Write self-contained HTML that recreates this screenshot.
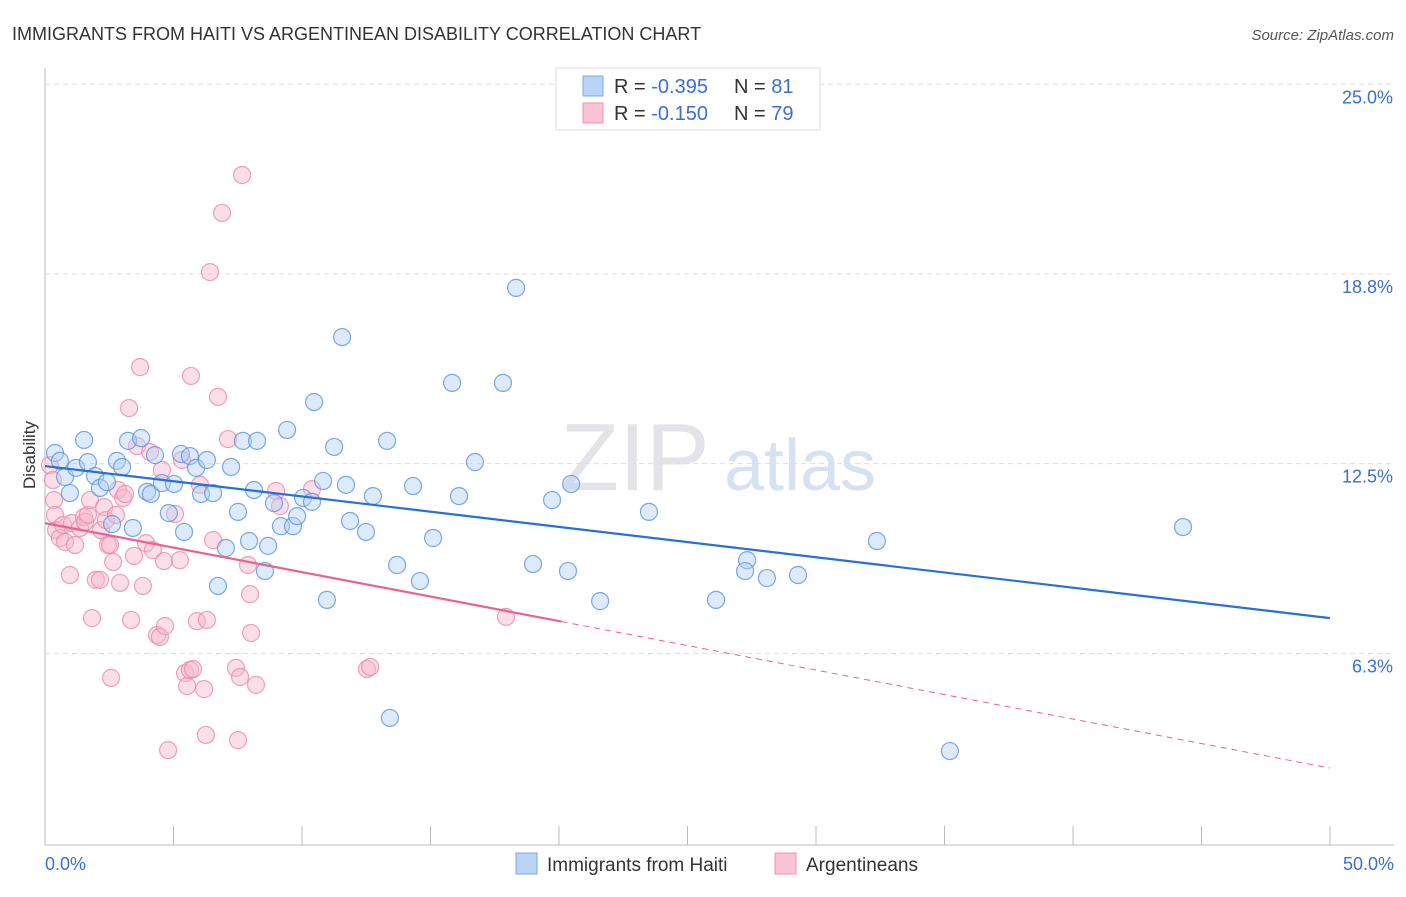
<!DOCTYPE html>
<html><head><meta charset="utf-8"><style>
body{margin:0;background:#fff;font-family:"Liberation Sans",sans-serif}
svg text{font-family:"Liberation Sans",sans-serif}
</style></head><body>
<svg id="c" width="1406" height="892" viewBox="0 0 1406 892">
<text x="12" y="40" font-size="18" fill="#333">IMMIGRANTS FROM HAITI VS ARGENTINEAN DISABILITY CORRELATION CHART</text>
<text x="1394" y="40" font-size="15" fill="#555" font-style="italic" text-anchor="end">Source: ZipAtlas.com</text>
<text x="635" y="490" font-size="96" fill="#e4e4e8" font-family="Liberation Serif" text-anchor="middle">ZIP</text>
<text x="800" y="490" font-size="72" fill="#d6e2f2" text-anchor="middle">atlas</text>
<g id="grid"></g><g id="axes"></g><g id="pts"></g><g id="trend"></g>
<text x="35" y="455" font-size="17" fill="#333" text-anchor="middle" transform="rotate(-90 35 455)">Disability</text>
<g>
<rect x="556" y="68" width="264" height="62" fill="#fff" stroke="#ddd"/>
<rect x="583" y="76" width="20" height="20" fill="#b9d4f5" stroke="#7aa9e6"/>
<text x="614" y="93" font-size="20" fill="#333">R = <tspan fill="#3b6fd4">-0.395</tspan></text>
<text x="734" y="93" font-size="20" fill="#333">N = <tspan fill="#3b6fd4"> 81</tspan></text>
<rect x="583" y="103" width="20" height="20" fill="#f9c5d4" stroke="#ee93ae"/>
<text x="614" y="120" font-size="20" fill="#333">R = <tspan fill="#3b6fd4"> -0.150</tspan></text>
<text x="734" y="120" font-size="20" fill="#333">N = <tspan fill="#3b6fd4">79</tspan></text>
</g>
<g>
<rect x="516" y="853" width="21" height="21" fill="#b9d4f5" stroke="#7aa9e6"/>
<text x="547" y="871" font-size="19" fill="#333">Immigrants from Haiti</text>
<rect x="775" y="853" width="21" height="21" fill="#f9c5d4" stroke="#ee93ae"/>
<text x="806" y="871" font-size="19" fill="#333">Argentineans</text>
</g>
</svg>
<script>
const yTicks=[25,18.75,12.5,6.25];
const yTickLabels=["25.0%","18.8%","12.5%","6.3%"];
const xTickLabels=["0.0%","50.0%"];
const blueX=[0.39,0.58,0.78,0.97,1.21,1.52,1.67,1.95,2.14,2.41,2.61,2.80,3.00,3.23,3.42,3.74,3.97,4.12,4.28,4.55,4.82,5.02,5.29,5.41,5.64,5.88,6.07,6.30,6.54,6.73,7.04,7.24,7.51,7.70,7.94,8.13,8.25,8.56,8.68,8.91,9.18,9.42,9.65,9.81,10.04,10.39,10.47,10.82,10.97,11.25,11.56,11.71,11.87,12.49,12.76,13.31,13.42,13.70,14.32,14.59,15.10,15.84,16.11,16.73,17.82,18.33,18.99,19.73,20.35,20.47,21.60,23.50,26.11,27.32,27.24,28.09,29.30,32.37,35.21,44.28];
const blueY=[12.85,12.59,12.06,11.53,12.36,13.28,12.55,12.09,11.70,11.89,10.51,12.59,12.39,13.25,10.38,13.34,11.57,11.50,12.78,11.86,10.87,11.83,12.82,10.25,12.75,12.36,11.50,12.62,11.53,8.47,9.72,12.39,10.91,13.25,9.95,11.63,13.25,8.96,9.79,11.20,10.44,13.61,10.44,10.77,11.37,11.24,14.53,11.93,8.01,13.05,16.67,11.80,10.61,10.25,11.43,13.25,4.12,9.16,11.76,8.63,10.05,15.16,11.43,12.55,15.16,18.29,9.19,11.30,8.96,11.83,7.97,10.91,8.01,9.32,8.96,8.73,8.83,9.95,3.03,10.41];
const pinkX=[0.19,0.31,0.35,0.39,0.43,0.58,0.70,0.78,0.97,1.05,1.17,1.36,1.52,1.56,1.67,1.75,1.83,1.98,2.14,2.18,2.30,2.37,2.45,2.53,2.57,2.65,2.76,2.84,2.92,3.04,3.11,3.27,3.35,3.46,3.58,3.70,3.81,3.93,4.09,4.20,4.36,4.47,4.55,4.63,4.67,4.79,5.06,5.25,5.33,5.45,5.53,5.64,5.68,5.76,5.91,6.03,6.19,6.30,6.26,6.42,6.54,6.73,6.89,7.12,7.43,7.51,7.59,7.67,7.90,7.98,8.02,8.21,8.99,9.14,10.39,12.53,12.65,17.94];
const pinkY=[12.45,11.96,11.30,10.81,10.31,10.05,10.48,9.92,8.83,10.54,9.82,10.38,10.74,10.58,10.81,11.30,7.41,8.67,8.67,10.31,11.07,10.64,9.82,9.82,5.44,9.26,10.81,11.63,8.57,11.37,11.50,14.33,7.35,9.46,13.08,15.68,8.47,9.88,12.88,9.65,6.85,6.79,12.29,9.29,7.15,3.06,10.84,9.32,12.62,5.60,5.17,5.70,15.39,5.73,7.31,11.80,5.07,7.35,3.56,18.81,9.98,14.70,20.76,13.31,5.77,3.39,5.47,22.01,9.16,8.20,6.92,5.21,11.60,11.10,11.66,5.73,5.80,7.45];
const blueTrend=[12.42,7.41];
const pinkTrend=[10.54,2.47];
const pinkSolidEnd=20.1;
const NS='http://www.w3.org/2000/svg';
const X=v=>45+v*25.7, Y=v=>843-v*30.35;
function mk(p,t,a){const e=document.createElementNS(NS,t);for(const k in a)e.setAttribute(k,a[k]);p.appendChild(e);return e;}
const grid=document.getElementById('grid'),axes=document.getElementById('axes'),pts=document.getElementById('pts'),trend=document.getElementById('trend');
yTicks.forEach((v,i)=>{
 const l=mk(grid,'line',{x1:45,x2:1394,y1:Y(v),y2:Y(v),stroke:'#ddd','stroke-dasharray':'5,4'});
 
 
 const t=mk(grid,'text',{x:1393,y:Y(v)+19,'font-size':18,fill:'#3b6fd4','text-anchor':'end'});
 t.textContent=yTickLabels[i];
 
 
});
const ya=mk(axes,'line',{x1:45,x2:45,y1:68,y2:845,stroke:'#bbb'});


const xa=mk(axes,'line',{x1:45,x2:1394,y1:845,y2:845,stroke:'#bbb'});


for(let i=0;i<=10;i++){const tk=mk(axes,'line',{x1:X(i*5),x2:X(i*5),y1:826,y2:845,stroke:'#bbb'});
 
 }
[[0,'start',45],[50,'end',1394]].forEach((d,i)=>{const t=mk(axes,'text',{x:d[2],y:870,'font-size':18,fill:'#3b6fd4','text-anchor':d[1]});t.textContent=xTickLabels[i];
 
 });
function dots(xs,ys,fill,stroke,name){xs.forEach((x,i)=>{const c=mk(pts,'circle',{cx:X(x),cy:Y(ys[i]),r:8.5,fill:fill,'fill-opacity':0.45,stroke:stroke,'stroke-width':1.2,'stroke-opacity':0.8});
 
 });}
dots(pinkX,pinkY,'#f7b8cb','#ec8aa8','argentineans-point');
dots(blueX,blueY,'#b4d0f3','#5b93dc','haiti-point');
const bt=mk(trend,'line',{x1:X(0),y1:Y(blueTrend[0]),x2:X(50),y2:Y(blueTrend[1]),stroke:'#2a6fd6','stroke-width':2.2});


const pAt=x=>pinkTrend[0]+(pinkTrend[1]-pinkTrend[0])*x/50;
const ps=mk(trend,'line',{x1:X(0),y1:Y(pinkTrend[0]),x2:X(pinkSolidEnd),y2:Y(pAt(pinkSolidEnd)),stroke:'#e8648c','stroke-width':2.2});


const pd=mk(trend,'line',{x1:X(pinkSolidEnd),y1:Y(pAt(pinkSolidEnd)),x2:X(50),y2:Y(pinkTrend[1]),stroke:'#e8648c','stroke-width':1,'stroke-dasharray':'6,5'});


</script>
</body></html>
